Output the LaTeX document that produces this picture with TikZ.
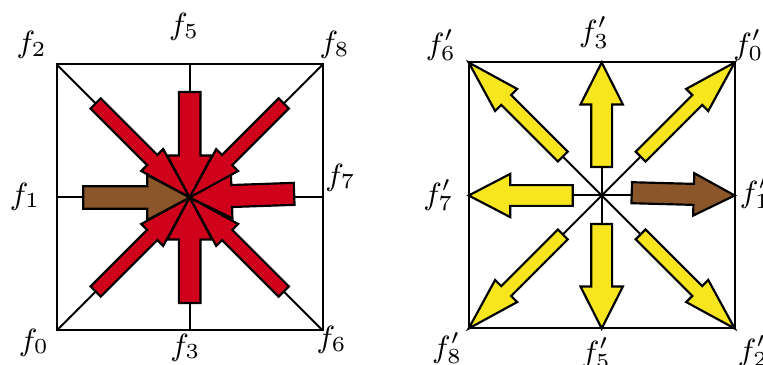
\RequirePackage{fix-cm}
\documentclass[tikz,border=0pt]{standalone}
\definecolor{arrred}{RGB}{208,2,27}
\definecolor{arrbrown}{RGB}{139,87,42}
\definecolor{arryellow}{RGB}{247,229,30}
\tikzset{
  gridline/.style={line width=0.6pt},
  blockarrow/.style={draw=black, line width=0.65pt, line join=miter},
  lbl/.style={inner sep=0pt, font=\fontsize{9.2}{11}\selectfont},
}
% #1 fill, #2 #3 origin, #4 rotation, #5 tail x, #6 tip x, #7 shaft half width, #8 head half width, #9 head length
\newcommand{\blockarr}[9]{%
  \begin{scope}[shift={(#2,#3)},rotate=#4]
    \filldraw[blockarrow,fill=#1] (#5,-#7) -- ({#6-#9},-#7) -- ({#6-#9},-#8) -- (#6,0)
      -- ({#6-#9},#8) -- ({#6-#9},#7) -- (#5,#7) -- cycle;
  \end{scope}}
\begin{document}
\begin{tikzpicture}[x=0.3pt,y=-0.3pt]
\useasboundingbox (0,0) rectangle (763,365);
% ---------- left panel ----------
\coordinate (A0) at (56.7,330.5);
\coordinate (A2) at (56.7,64.5);
\coordinate (A8) at (322.7,64.5);
\coordinate (A6) at (322.7,330.5);
\coordinate (A1) at (56.7,197.5);
\coordinate (A7) at (322.7,197.5);
\coordinate (A5) at (189.7,64.5);
\coordinate (A3) at (189.7,330.5);
\draw[gridline] (A2) rectangle (A6);
\draw[gridline] (A0) -- (A8);
\draw[gridline] (A2) -- (A6);
\draw[gridline] (A1) -- (A7);
\draw[gridline] (A5) -- (A3);
% red arrows pointing into the centre
\blockarr{arrred}{189.7}{197.5}{45}{-133}{0}{7.2}{15.5}{53}   % from f0
\blockarr{arrred}{189.7}{197.5}{-45}{-133}{0}{7.2}{15.5}{53}  % from f2
\blockarr{arrred}{189.7}{197.5}{90}{-105.5}{0}{10.8}{22.4}{42} % from f3
\blockarr{arrred}{189.7}{197.5}{270}{-105.5}{0}{10.8}{22.4}{42}% from f5
\blockarr{arrred}{189.7}{197.5}{135}{-133}{0}{7.2}{15.5}{53}  % from f6
\blockarr{arrred}{189.7}{197.5}{182}{-104.5}{0}{11}{22.4}{42} % from f7
\blockarr{arrred}{189.7}{197.5}{225}{-133}{0}{7.2}{15.5}{53}  % from f8
\blockarr{arrbrown}{189.7}{197.5}{0}{-106.4}{0}{11.2}{22.5}{42.4} % from f1
% labels
\node[lbl] (f0) at (33.8,342.5) {$f_0$};
\node[lbl] (f1) at (25,196.7) {$f_1$};
\node[lbl] (f2) at (31.7,45.3) {$f_2$};
\node[lbl] (f3) at (185.3,347.5) {$f_3$};
\node[lbl] (f5) at (184.2,27) {$f_5$};
\node[lbl] (f6) at (331.7,340) {$f_6$};
\node[lbl] (f7) at (340.5,177.5) {$f_7$};
\node[lbl] (f8) at (334.7,45) {$f_8$};
% ---------- right panel ----------
\coordinate (B8) at (468.7,328.5);
\coordinate (B6) at (468.7,62.5);
\coordinate (B0) at (734.7,62.5);
\coordinate (B2) at (734.7,328.5);
\coordinate (B7) at (468.7,195.5);
\coordinate (B1) at (734.7,195.5);
\coordinate (B3) at (601.7,62.5);
\coordinate (B5) at (601.7,328.5);
\draw[gridline] (B6) rectangle (B2);
\draw[gridline] (B8) -- (B0);
\draw[gridline] (B6) -- (B2);
\draw[gridline] (B7) -- (B1);
\draw[gridline] (B3) -- (B5);
% yellow arrows pointing outwards
\blockarr{arryellow}{601.7}{195.5}{45}{55}{188.1}{7}{15.6}{53}
\blockarr{arryellow}{601.7}{195.5}{135}{55}{188.1}{7}{15.6}{53}
\blockarr{arryellow}{601.7}{195.5}{225}{55}{188.1}{7}{15.6}{53}
\blockarr{arryellow}{601.7}{195.5}{315}{55}{188.1}{7}{15.6}{53}
\blockarr{arryellow}{601.7}{195.5}{90}{28.5}{133}{10.4}{21.2}{42}
\blockarr{arryellow}{601.7}{195.5}{180}{29}{133}{10.4}{21.6}{41.5}
\blockarr{arryellow}{601.7}{195.5}{270}{28.5}{133}{10.4}{21.2}{42}
\blockarr{arrbrown}{734.7}{195.5}{-1.55}{-103}{0}{10.5}{21.2}{41}
% labels
\node[lbl] (g0) at (748.3,45) {$f'_0$};
\node[lbl] (g1) at (755,193) {$f'_1$};
\node[lbl] (g2) at (753,351) {$f'_2$};
\node[lbl] (g3) at (594.2,32.5) {$f'_3$};
\node[lbl] (g5) at (595.8,353.3) {$f'_5$};
\node[lbl] (g6) at (440.8,45.3) {$f'_6$};
\node[lbl] (g7) at (438.3,195) {$f'_7$};
\node[lbl] (g8) at (447.2,348.3) {$f'_8$};
\end{tikzpicture}
\end{document}
